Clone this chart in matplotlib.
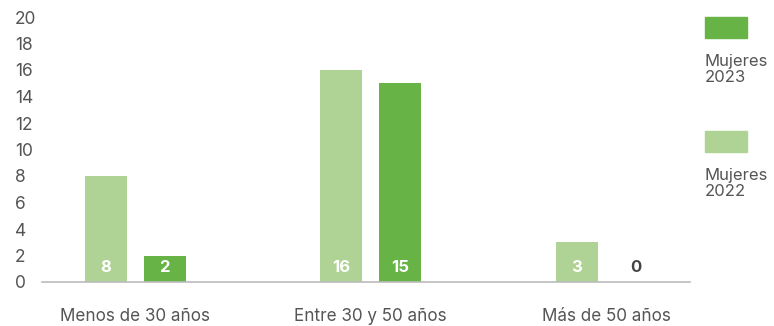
import matplotlib.pyplot as plt
from matplotlib.patches import Rectangle

plt.rcParams['font.family'] = ['Inter', 'DejaVu Sans']

categories = ['Menos de 30 años', 'Entre 30 y 50 años', 'Más de 50 años']
mujeres_2022 = [8, 16, 3]
mujeres_2023 = [2, 15, 0]
y_ticks = list(range(0, 21, 2))

color_2022 = '#afd395'
color_2023 = '#67b346'
text_grey = '#555555'

fig = plt.figure(figsize=(7.74, 3.26), dpi=100)
ax = fig.add_axes([42 / 774, 1 - 282 / 326, 648 / 774, 265 / 326])

x = list(range(len(categories)))
w = 0.178
off = 0.125
ax.bar([i - off for i in x], mujeres_2022, width=w, color=color_2022)
ax.bar([i + off for i in x], mujeres_2023, width=w, color=color_2023)

# value labels sit near the base of each bar
for i in x:
    for xi, v in ((i - off, mujeres_2022[i]), (i + off, mujeres_2023[i])):
        c = 'white' if v > 1 else '#444444'
        ax.text(xi, 1.06, str(v), ha='center', va='center', color=c,
                fontsize=12, fontweight='bold')

ax.set_xlim(-0.395, 2.355)
ax.set_ylim(0, 20)
ax.set_yticks(y_ticks)
ax.set_xticks(x)
ax.set_xticklabels(categories)
ax.tick_params(axis='both', length=0, labelsize=12.5, colors=text_grey)
ax.tick_params(axis='x', pad=19, labelsize=12.3)
ax.tick_params(axis='y', pad=19.5)
for lab in ax.get_yticklabels():
    lab.set_horizontalalignment('left')

for s in ('top', 'right', 'left'):
    ax.spines[s].set_visible(False)
ax.spines['bottom'].set_color('#bbbbbb')
ax.spines['bottom'].set_linewidth(1.2)

# legend: swatch with its label underneath
legend_items = [('Mujeres\n2023', color_2023, 17), ('Mujeres\n2022', color_2022, 131)]
for label, col, top in legend_items:
    fig.add_artist(Rectangle((705 / 774, 1 - (top + 21) / 326), 42 / 774, 21 / 326,
                             transform=fig.transFigure, color=col))
    fig.text(705 / 774, 1 - (top + 37) / 326, label, ha='left', va='top',
             fontsize=12, color=text_grey, linespacing=1.12)

fig.savefig('out.png', dpi=100)
